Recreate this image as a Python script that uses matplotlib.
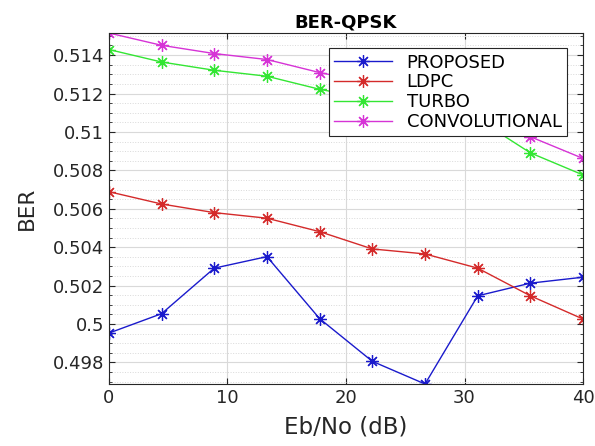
import matplotlib.pyplot as plt
import numpy as np
from matplotlib.ticker import MultipleLocator

# Eb/No points (10 steps from 0 to 40 dB)
ebno = [0, 4.444, 8.889, 13.333, 17.778, 22.222, 26.667, 31.111, 35.556, 40]

ber_proposed = [0.49953, 0.50054, 0.50291, 0.50351, 0.50028,
                0.49806, 0.49688, 0.50147, 0.50213, 0.50244]
ber_ldpc = [0.50689, 0.50625, 0.50580, 0.50551, 0.50481,
            0.50391, 0.50365, 0.50291, 0.50147, 0.50026]
ber_turbo = [0.51429, 0.51364, 0.51321, 0.51290, 0.51222,
             0.51170, 0.51120, 0.51067, 0.50891, 0.50776]
ber_conv = [0.51515, 0.51451, 0.51408, 0.51377, 0.51309,
            0.51255, 0.51190, 0.51110, 0.50975, 0.50862]

names = ['PROPOSED', 'LDPC', 'TURBO', 'CONVOLUTIONAL']
colors = ['#1a1acc', '#d42a2a', '#33e633', '#d633d6']

fig = plt.figure(figsize=(5.95, 4.46), dpi=100)
ax = fig.add_axes([0.183, 0.139, 0.797, 0.787])

# matlab style '*' marker -> 8 spoke asterisk
for ys, name, c in zip([ber_proposed, ber_ldpc, ber_turbo, ber_conv], names, colors):
    ax.plot(ebno, ys, '-', marker=(8, 2, 0), color=c, lw=1.0, ms=9, mew=0.9, label=name)

allv = ber_proposed + ber_ldpc + ber_turbo + ber_conv
ax.set_xlim(0, 40)
ax.set_ylim(min(allv), max(allv))

ax.set_xticks([0, 10, 20, 30, 40])
ax.set_yticks([0.498, 0.5, 0.502, 0.504, 0.506, 0.508, 0.51, 0.512, 0.514])
ax.set_yticklabels(['0.498', '0.5', '0.502', '0.504', '0.506', '0.508', '0.51', '0.512', '0.514'])
ax.yaxis.set_minor_locator(MultipleLocator(0.0005))

ax.grid(True, which='major', color='#d9d9d9', lw=0.8)
ax.grid(True, which='minor', axis='y', color='#d9d9d9', lw=0.7, ls=':')
ax.set_axisbelow(True)

ax.tick_params(which='both', direction='in', top=True, right=True, labelsize=13, colors='#262626')
ax.tick_params(which='major', length=4)
ax.tick_params(which='minor', length=2)
for sp in ax.spines.values():
    sp.set_color('#262626')
    sp.set_linewidth(0.8)

ax.set_xlabel('Eb/No (dB)', fontsize=16.5, color='#262626', labelpad=6)
ax.set_ylabel('BER', fontsize=15.5, color='#262626', labelpad=11)
ax.set_title('BER-QPSK', fontsize=13, fontweight='bold', pad=4)

leg = ax.legend(loc='upper right', bbox_to_anchor=(0.966, 0.957), fontsize=13,
                fancybox=False, framealpha=1, edgecolor='#262626',
                borderpad=0.3, labelspacing=0.1, handlelength=3.2, borderaxespad=0)
leg.get_frame().set_linewidth(0.8)

fig.savefig('out.png', dpi=100)
